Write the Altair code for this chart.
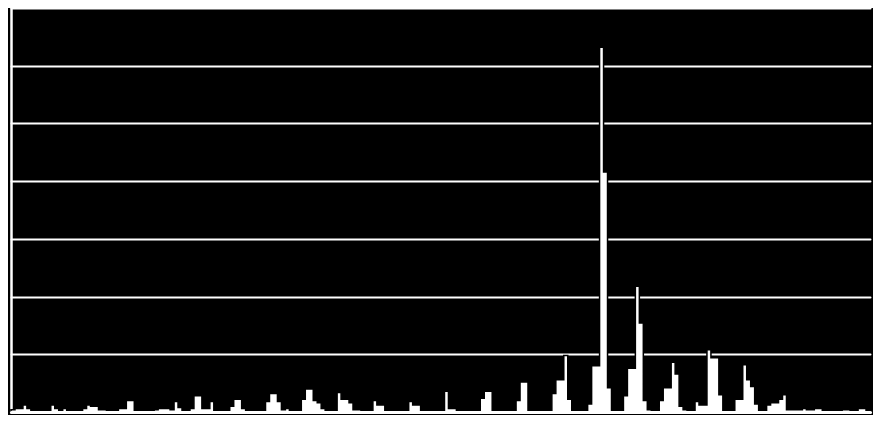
import altair as alt
import pandas as pd

# 24 groups of 9 bins each (heights)
g00 = [2, 3, 3, 6, 3, 0, 0, 0, 0]
g01 = [1, 6, 3, 0, 3, 0, 0, 0, 0]
g02 = [3, 6, 5, 5, 2, 2, 0, 0, 0]
g03 = [3, 3, 10, 10, 0, 0, 0, 0, 0]
g04 = [2, 3, 3, 3, 2, 9, 4, 0, 0]
g05 = [3, 14, 14, 3, 3, 9, 0, 0, 0]
g06 = [0, 5, 11, 11, 3, 0, 0, 0, 0]
g07 = [0, 9, 16, 16, 9, 2, 3, 0, 0]
g08 = [0, 11, 20, 20, 10, 8, 3, 0, 0]
g09 = [0, 17, 11, 11, 8, 2, 2, 0, 0]
g10 = [0, 10, 6, 6, 0, 0, 0, 0, 0]
g11 = [0, 9, 6, 6, 0, 0, 0, 0, 0]
g12 = [0, 18, 3, 3, 0, 0, 0, 0, 0]
g13 = [0, 12, 18, 18, 0, 0, 0, 0, 0]
g14 = [0, 10, 26, 26, 1, 0, 0, 0, 0]
g15 = [0, 16, 28, 28, 49, 11, 0, 0, 0]
g16 = [0, 7, 40, 40, 316, 208, 21, 0, 0]
g17 = [0, 14, 38, 38, 109, 77, 10, 2, 0]
g18 = [0, 10, 21, 21, 43, 33, 5, 2, 0]
g19 = [0, 9, 6, 6, 54, 47, 47, 15, 0]
g20 = [0, 0, 11, 11, 41, 28, 22, 7, 0]
g21 = [0, 6, 8, 8, 11, 15, 2, 2, 2]
g22 = [2, 3, 2, 2, 3, 3, 1, 1, 1]
g23 = [1, 1, 2, 2, 1, 1, 3, 3, 1]

groups = [g00, g01, g02, g03, g04, g05, g06, g07, g08, g09, g10, g11,
          g12, g13, g14, g15, g16, g17, g18, g19, g20, g21, g22, g23]
tick_values = [0, 50, 100, 150, 200, 250, 300, 350]

values = [v for g in groups for v in g]
n = len(values)
df = pd.DataFrame({"bin": list(range(n)) + [n], "value": values + [values[-1]]})

chart = alt.Chart(df).mark_area(
    interpolate="step-after", color="white", stroke="black", strokeWidth=1.5
).encode(
    x=alt.X("bin:Q", scale=alt.Scale(domain=[0, n], nice=False, zero=False),
            axis=alt.Axis(labels=False, ticks=False, grid=False, title=None,
                          domainColor="white", domainWidth=3, domainCap="round",
                          zindex=1)),
    y=alt.Y("value:Q", scale=alt.Scale(domain=[0, 350], nice=False),
            axis=alt.Axis(labels=False, ticks=False, title=None, values=tick_values,
                          grid=True, gridColor="white", gridWidth=2, gridOpacity=1,
                          gridCap="round",
                          domainColor="white", domainWidth=2.5, domainCap="round",
                          zindex=0)),
).properties(
    width=865, height=407, background="black", padding=0,
    autosize=alt.AutoSizeParams(type="fit", contains="padding")
).configure_view(strokeWidth=0, strokeOpacity=0)

chart.save("out.html", embed_options={"renderer": "svg", "actions": False})
